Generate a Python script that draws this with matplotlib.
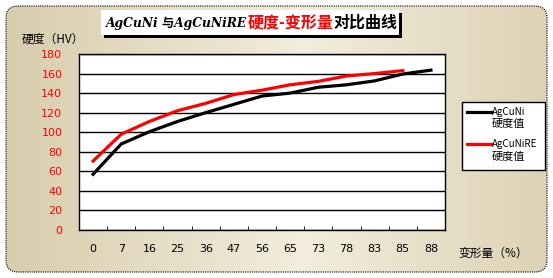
import matplotlib.pyplot as plt
import numpy as np
from matplotlib.patches import FancyBboxPatch, Rectangle
from matplotlib.lines import Line2D

plt.rcParams['font.family'] = ['DejaVu Sans', 'Noto Sans CJK SC']
CJK = ['Noto Sans CJK SC', 'DejaVu Sans']

deform = ['0', '7', '16', '25', '36', '47', '56', '65', '73', '78', '83', '85', '88']
agcuni = [57, 88, 100.5, 111, 120, 128.5, 137, 140, 146, 148.5, 152.5, 159.5, 163.5]
agcunire = [70.5, 98, 111, 122, 129.5, 138.5, 143, 148.5, 152, 157.5, 160, 163]

W, H = 553, 278
fig = plt.figure(figsize=(W / 100, H / 100), dpi=100)
fig.patch.set_facecolor('white')

# beige gradient background with rounded dotted border
bg = fig.add_axes([0, 0, 1, 1])
bg.set_xlim(0, W)
bg.set_ylim(H, 0)
bg.axis('off')
t = np.linspace(0, 1, 256)
shade = np.clip(1 - np.abs(t - 0.55) * 1.6, 0, 1)
c_dark = np.array([212, 200, 166]) / 255
c_light = np.array([242, 237, 220]) / 255
grad = c_dark + (c_light - c_dark) * shade[:, None]
img = bg.imshow(grad[None, :, :], extent=[5, 548, 273, 5], aspect='auto')
frame = FancyBboxPatch((6, 6), 541, 266, boxstyle='round,pad=0,rounding_size=12',
                       facecolor='none', edgecolor='black', lw=0.8, ls=(0, (1, 1)))
bg.add_patch(frame)
img.set_clip_path(frame)

# title box with shadow
bg.add_patch(Rectangle((104, 13), 298, 25, facecolor='black', lw=0))
bg.add_patch(Rectangle((101, 10), 298, 25, facecolor='white', lw=0))
t1 = bg.text(106, 23, 'AgCuNi 与AgCuNiRE', style='italic', fontsize=8.8,
             fontweight='bold', va='center',
             family=['DejaVu Serif', 'Noto Sans CJK SC'], color='black')
t2 = bg.annotate('硬度-变形量', xy=(1, 0.5), xycoords=t1, ha='left', va='center',
                 fontsize=11.5, fontweight='bold', family=CJK, color='#ff0000')
t3 = bg.annotate('对比曲线', xy=(1, 0.5), xycoords=t2, ha='left', va='center',
                 fontsize=11.5, fontweight='bold', style='italic',
                 family=CJK, color='black')

bg.text(22, 39, '硬度（HV）', family=CJK, fontsize=8.5, va='center', ha='left')
bg.text(458, 253, '变形量（%）', family=CJK, fontsize=8.5, va='center', ha='left')

# main plot
ax = fig.add_axes([79 / W, 1 - 230 / H, 366 / W, 176 / H])
ax.set_facecolor('white')
x = np.arange(len(deform))
ax.plot(x, agcuni, color='black', lw=2.3)
ax.plot(x[:len(agcunire)], agcunire, color='#ff0000', lw=2.3)

ax.set_xlim(-0.5, len(deform) - 0.5)
ax.set_ylim(0, 180)
ax.set_yticks(np.arange(0, 181, 20))
ax.yaxis.grid(True, color='black', lw=1)
ax.set_axisbelow(True)
ax.tick_params(axis='y', labelsize=8, length=0, pad=12)
for lbl in ax.get_yticklabels():
    lbl.set_color('#ff0000')
ax.set_xticks(x)
ax.set_xticklabels(deform, fontsize=8)
ax.set_xticks(np.arange(0.5, len(deform) - 1, 1), minor=True)
ax.tick_params(axis='x', which='major', length=0, pad=10)
ax.tick_params(axis='x', which='minor', direction='in', length=3, color='black')
for s in ax.spines.values():
    s.set_color('black')
    s.set_linewidth(1)

# legend box
bg.add_patch(Rectangle((462, 102), 83, 68, facecolor='white', edgecolor='black', lw=1))
bg.add_line(Line2D([467, 491], [112, 112], color='black', lw=2.3))
bg.add_line(Line2D([467, 491], [144, 144], color='#ff0000', lw=2.3))
bg.text(492, 112, 'AgCuNi', family=CJK, fontsize=7, va='center')
bg.text(492, 124, '硬度值', family=CJK, fontsize=8, va='center')
bg.text(492, 144, 'AgCuNiRE', family=CJK, fontsize=7, va='center')
bg.text(492, 157, '硬度值', family=CJK, fontsize=8, va='center')

fig.savefig('out.png', dpi=100)
